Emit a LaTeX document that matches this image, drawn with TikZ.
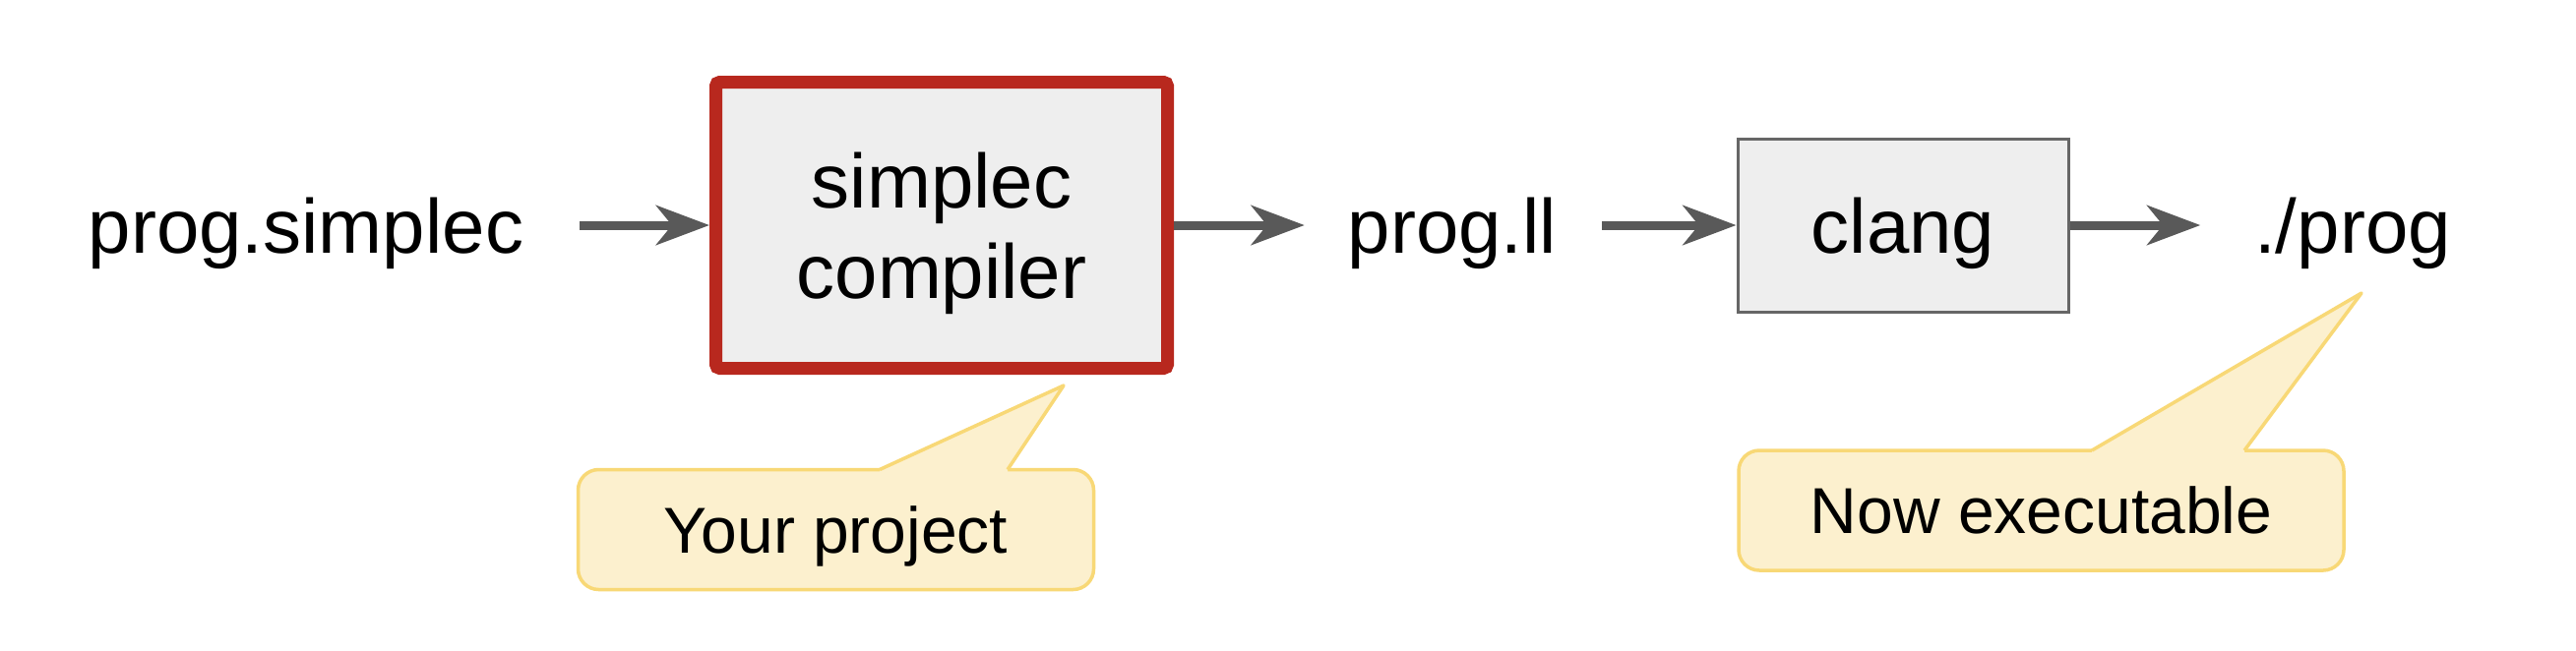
\documentclass[tikz,border=0pt]{standalone}
\usepackage{fontspec}
\setmainfont{Liberation Sans}
\usetikzlibrary{arrows.meta}
\definecolor{boxred}{RGB}{184,40,30}
\definecolor{boxfill}{RGB}{238,238,238}
\definecolor{arrgray}{RGB}{89,89,89}
\definecolor{clangline}{RGB}{102,102,102}
\definecolor{callfill}{RGB}{252,240,206}
\definecolor{callline}{RGB}{248,216,118}
\begin{document}
\begin{tikzpicture}[x=0.5pt,y=-0.5pt,
  lbl/.style={font=\fontsize{39}{46}\selectfont, inner sep=0pt, outer sep=0pt, text height=28pt, text depth=0pt},
  compbox/.style={draw=boxred, line width=6.5pt, fill=boxfill, rounded corners=2pt,
    minimum width=229.5pt, minimum height=145.5pt, inner sep=0pt, align=center,
    font=\fontsize{39}{46}\selectfont, text depth=0pt},
  clangbox/.style={draw=clangline, line width=1.5pt, fill=boxfill,
    minimum width=168pt, minimum height=88pt, inner sep=0pt,
    font=\fontsize{39}{46}\selectfont, text height=28pt, text depth=0pt},
  callout/.style={draw=callline, line width=1.75pt, fill=callfill, rounded corners=10.5pt,
    minimum height=61pt, inner sep=0pt, font=\fontsize{33}{40}\selectfont,
    text height=23.6pt, text depth=0pt},
  pointer/.style={draw=callline, line width=1.75pt, line join=round},
  arr/.style={draw=arrgray, line width=4.5pt, -{Stealth[length=27pt,width=20pt,inset=8pt]}}
]
\fill[white] (0,0) rectangle (2618,661);
\useasboundingbox (0,0) rectangle (2618,661);

\node[lbl] (src) at (311,229) {prog.simplec};
\node[compbox] (comp) at (957,229) {simplec\\compiler};
\node[lbl] (ll) at (1476,229) {prog.ll};
\node[clangbox] (clang) at (1934,229) {clang};
\node[lbl] (exe) at (2391,229) {./prog};

\draw[arr, shorten <=28.5pt] (src) -- (comp);
\draw[arr, shorten >=22pt] (comp) -- (ll);
\draw[arr, shorten <=23pt] (ll) -- (clang);
\draw[arr, shorten >=27.5pt] (clang) -- (exe);

% callout 1
\node[callout, minimum width=262pt] (note1) at (849.5,538.5) {Your project};
\coordinate (tip1) at (1081,392);
\fill[callfill] (894,480) -- (894,477.5) -- (tip1) -- (1024,477.5) -- (1024,480) -- cycle;
\draw[pointer] (894,477.5) -- (tip1) -- (1024,477.5);

% callout 2
\node[callout, minimum width=307.5pt] (note2) at (2074.5,519) {Now executable};
\coordinate (tip2) at (2400,298);
\fill[callfill] (2126,460.5) -- (2126,458) -- (tip2) -- (2281,458) -- (2281,460.5) -- cycle;
\draw[pointer] (2126,458) -- (tip2) -- (2281,458);
\end{tikzpicture}
\end{document}
